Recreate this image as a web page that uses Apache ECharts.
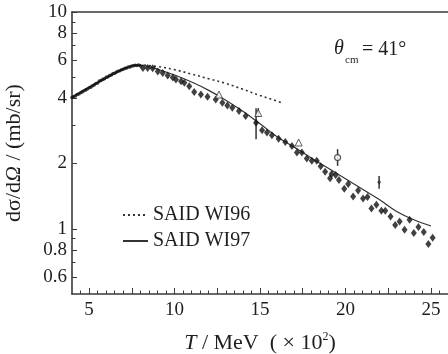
<!DOCTYPE html>
<html><head><meta charset="utf-8">
<script src="https://cdn.jsdelivr.net/npm/echarts@6/dist/echarts.min.js"></script>
<style>html,body{margin:0;padding:0;background:#fff}#c{width:448px;height:354px}</style>
</head><body><div id="c"></div>
<script>
// Dense low-energy data (T in 100 MeV, dσ/dΩ in mb/sr)
const denseT = [4.0,4.1,4.2,4.3,4.4,4.5,4.6,4.7,4.8,4.9,5.0,5.1,5.2,5.3,5.4,5.5,5.6,5.7,5.8,5.9,6.0,6.1,6.2,6.3,6.4,6.5,6.6,6.7,6.8,6.9,7.0,7.1,7.2,7.3,7.4,7.5,7.6,7.7,7.8,7.9,8.0];
const denseV = [4.03,4.08,4.10,4.16,4.19,4.24,4.27,4.33,4.37,4.41,4.47,4.50,4.57,4.60,4.68,4.70,4.80,4.83,4.90,4.92,5.00,5.02,5.10,5.12,5.20,5.22,5.28,5.33,5.36,5.42,5.45,5.50,5.52,5.58,5.58,5.63,5.65,5.68,5.66,5.70,5.63];
// Sparse higher-energy data
const sparseT = [8.15,8.43,8.72,9.02,9.31,9.60,9.90,10.08,10.38,10.57,10.86,11.15,11.54,11.93,12.41,12.80,13.09,13.38,13.77,14.16,14.77,15.12,15.41,15.70,16.09,16.48,16.87,17.16,17.45,17.74,18.03,18.32,18.55,18.81,19.10,19.19,19.43,19.62,19.93,20.16,20.45,20.74,21.03,21.29,21.52,21.81,22.10,22.33,22.64,22.91,23.17,23.46,23.75,24.00,24.27,24.58,24.85,25.10];
const sparseV = [5.52,5.52,5.50,5.32,5.23,5.09,4.99,4.88,4.79,4.71,4.55,4.28,4.16,4.06,3.95,3.81,3.70,3.62,3.49,3.31,3.08,2.85,2.78,2.70,2.60,2.51,2.41,2.25,2.25,2.11,2.06,2.06,1.94,1.83,1.71,1.79,1.77,1.68,1.53,1.61,1.41,1.50,1.38,1.40,1.24,1.29,1.21,1.21,1.14,1.04,1.08,0.99,1.10,0.955,1.02,0.965,0.85,0.91];
// Open triangles
const triT = [12.6, 14.9, 17.26];
const triV = [4.16, 3.42, 2.50];
// Open circle and small marker with error bars
const circT = [19.54];
const circV = [2.13];
const plusT = [21.97];
const plusV = [1.64];
// Error bars
const errT  = [14.77, 14.9, 19.54, 21.97];
const errLo = [2.59, 3.28, 1.95, 1.53];
const errHi = [3.60, 3.60, 2.33, 1.75];
// SAID curves
const wi96T = [4,5,6,7,7.8,9,10,11,12,13,14,15,16,16.3];
const wi96V = [4.05,4.5,4.95,5.45,5.7,5.6,5.42,5.17,4.92,4.68,4.4,4.12,3.88,3.8];
const wi97T = [4,5,6,7,7.8,8.5,9,10,11,12,13,14,15,16,17,18,19,20,21,22,23,24,25];
const wi97V = [4.05,4.5,4.95,5.45,5.68,5.6,5.45,5.12,4.75,4.35,3.92,3.48,3.05,2.66,2.38,2.12,1.9,1.7,1.52,1.36,1.2,1.1,1.03];
// Axis ticks / labels
const xLabelVals = [5,10,15,20,25];
const xMajorTicks = [5,7.5,10,12.5,15,17.5,20,22.5,25];
const xMinorTicks = [4.5,5.5,6,6.5,7,8,8.5,9,9.5,10.5,11,11.5,12,13,13.5,14,14.5,15.5,16,16.5,17,18,18.5,19,19.5,20.5,21,21.5,22,23,23.5,24,24.5,25.5];
const yLabelVals = [0.6,0.8,1,2,4,6,8,10];
const yMinorTicks = [0.7,0.9,3,5,7,9];

const FONT = '"Liberation Serif","DejaVu Serif",serif';
const TXT = '#1e1e1e';
const zip = (a,b) => a.map((v,i)=>[v,b[i]]);
const chart = echarts.init(document.getElementById('c'), null, {renderer:'canvas'});
const axisLineStyle = {color:'#3a3a3a', width:1.6};
chart.setOption({
  animation:false,
  backgroundColor:'#fff',
  grid:{left:72, right:0, top:12, bottom:60, outerBoundsMode:'none', containLabel:false},
  legend:{
    data:['SAID WI96','SAID WI97'], orient:'vertical', left:117, top:200,
    itemWidth:25, itemHeight:14, itemGap:6,
    itemStyle:{opacity:0},
    textStyle:{fontFamily:FONT, fontSize:20, color:TXT}
  },
  xAxis:[
    {type:'value', min:4, max:26, position:'bottom',
     axisLine:{lineStyle:axisLineStyle},
     axisTick:{inside:true, length:6, customValues:xMajorTicks, lineStyle:{color:'#3a3a3a'}},
     axisLabel:{customValues:xLabelVals, fontFamily:FONT, fontSize:19, color:TXT, margin:7},
     splitLine:{show:false},
     name:'{i|T} / MeV  ( × 10{s|2})', nameLocation:'middle', nameGap:37,
     nameTextStyle:{fontFamily:FONT, fontSize:22, color:TXT, lineHeight:24,
       rich:{i:{fontFamily:FONT, fontStyle:'italic', fontSize:22, lineHeight:24, color:TXT},
             s:{fontFamily:FONT, fontSize:12, verticalAlign:'top', lineHeight:13, color:TXT}}}},
    {type:'value', min:4, max:26, position:'bottom', offset:0,
     axisLine:{show:false},
     axisTick:{show:true, inside:true, length:3.5, customValues:xMinorTicks, lineStyle:{color:'#3a3a3a'}},
     axisLabel:{show:false}, splitLine:{show:false}},
    {type:'value', min:4, max:26, position:'top',
     axisLine:{lineStyle:axisLineStyle}, axisTick:{show:false}, axisLabel:{show:false}, splitLine:{show:false}}
  ],
  yAxis:[
    {type:'log', logBase:10, min:0.5, max:10, position:'left',
     axisLine:{show:true, lineStyle:axisLineStyle},
     axisTick:{show:true, inside:true, length:5, customValues:yLabelVals, lineStyle:{color:'#3a3a3a'}},
     axisLabel:{customValues:yLabelVals, fontFamily:FONT, fontSize:19, color:TXT, margin:5},
     splitLine:{show:false},
     name:'{n|dσ/d}{i|Ω}{n| / (mb/sr)}', nameLocation:'middle', nameGap:47, nameRotate:90,
     nameTextStyle:{fontFamily:FONT, fontSize:22, color:TXT,
       rich:{n:{fontFamily:FONT, fontSize:22, color:TXT}, i:{fontFamily:FONT, fontSize:22, fontStyle:'italic', color:TXT}}}},
    {type:'log', logBase:10, min:0.5, max:10, position:'left', offset:0,
     axisLine:{show:false},
     axisTick:{show:true, inside:true, length:3.5, customValues:yMinorTicks, lineStyle:{color:'#3a3a3a'}},
     axisLabel:{show:false}, splitLine:{show:false}}
  ],
  graphic:[
    {type:'text', left:334, top:39, style:{text:'θ', fontFamily:FONT, fontSize:20, fontStyle:'italic', fill:TXT}},
    {type:'text', left:345, top:55, style:{text:'cm', fontFamily:FONT, fontSize:11, fill:TXT}},
    {type:'text', left:362, top:40, style:{text:'= 41°', fontFamily:FONT, fontSize:20, fill:TXT}}
  ],
  series:[
    {name:'SAID WI96', type:'line', data:zip(wi96T,wi96V), smooth:0.4, symbol:'none',
     itemStyle:{color:'#333', opacity:0},
     lineStyle:{color:'#333', width:1.6, type:[2,3]}, z:3},
    {name:'SAID WI97', type:'line', data:zip(wi97T,wi97V), smooth:0.4, symbol:'none',
     itemStyle:{color:'#333', opacity:0},
     lineStyle:{color:'#333', width:1.2, type:'solid'}, z:3},
    {name:'dense', type:'scatter', data:zip(denseT,denseV), symbol:'circle', symbolSize:3.5,
     itemStyle:{color:'#111'}, z:4},
    {name:'sparse', type:'scatter', data:zip(sparseT,sparseV), symbol:'diamond', symbolSize:[6,8],
     itemStyle:{color:'#111'}, z:4},
    {name:'err', type:'custom', data:errT.map((t,i)=>[t,errLo[i],errHi[i]]),
     encode:{x:0, y:[1,2]}, z:4,
     renderItem:(params, api) => {
       const p1 = api.coord([api.value(0), api.value(1)]);
       const p2 = api.coord([api.value(0), api.value(2)]);
       return {type:'line', shape:{x1:p1[0], y1:p1[1], x2:p2[0], y2:p2[1]}, style:{stroke:'#333', lineWidth:1.5}};
     }},
    {name:'tri', type:'scatter', data:zip(triT,triV), symbol:'triangle', symbolSize:7,
     itemStyle:{color:'#fff', borderColor:'#333', borderWidth:1}, z:5},
    {name:'circ', type:'scatter', data:zip(circT,circV), symbol:'circle', symbolSize:6,
     itemStyle:{color:'#fff', borderColor:'#333', borderWidth:1.2}, z:5},
    {name:'plus', type:'scatter', data:zip(plusT,plusV), symbol:'diamond', symbolSize:[4,5],
     itemStyle:{color:'#333'}, z:5}
  ]
});
</script></body></html>
